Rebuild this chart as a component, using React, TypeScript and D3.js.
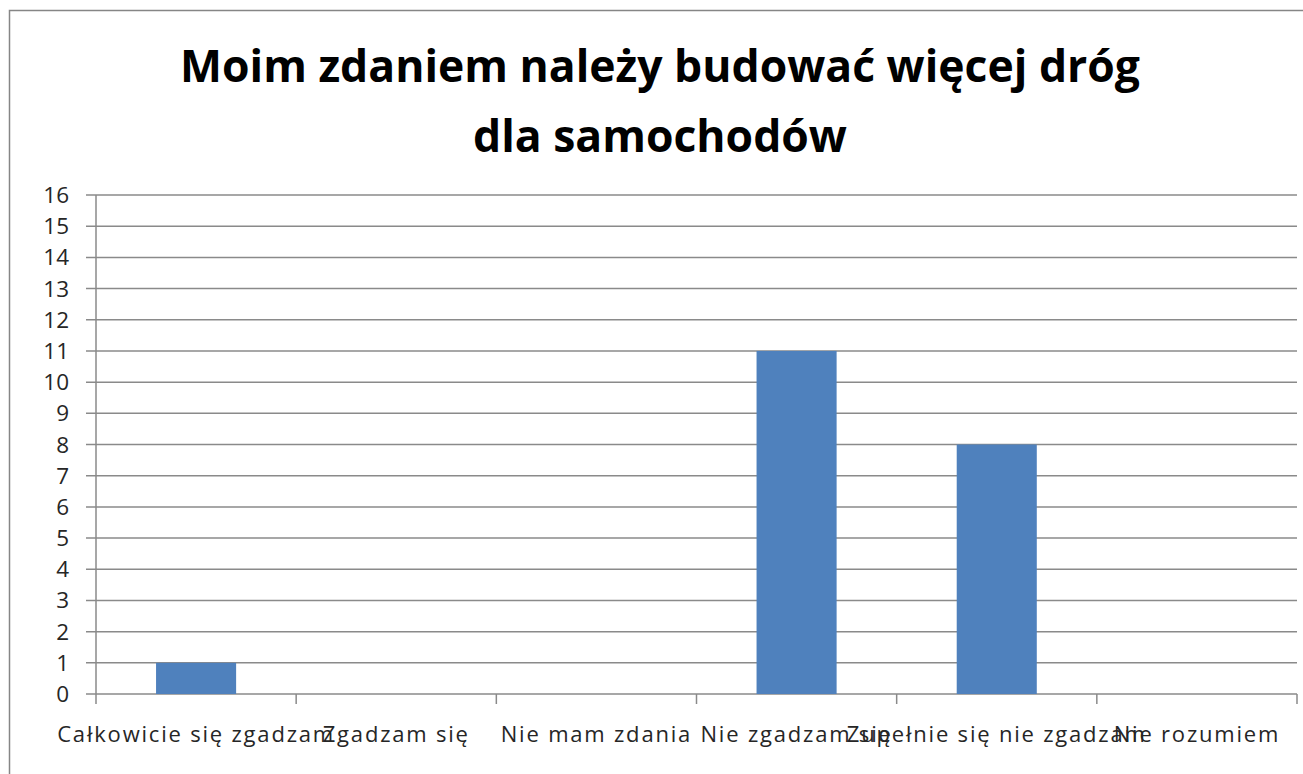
import React from "react";
import * as d3 from "d3";

const categories = [
  "Całkowicie się zgadzam",
  "Zgadzam się",
  "Nie mam zdania",
  "Nie zgadzam się",
  "Zupełnie się nie zgadzam",
  "Nie rozumiem",
];
const values = [1, 0, 0, 11, 8, 0];
const yTicks = d3.range(0, 17);
const titleLines = ["Moim zdaniem należy budować więcej dróg", "dla samochodów"];

const W = 1303;
const H = 774;
const plot = { left: 96, right: 1297, top: 195, bottom: 694 };

export default function App() {
  const x = d3
    .scaleBand<string>()
    .domain(categories)
    .range([plot.left, plot.right])
    .paddingInner(0.6)
    .paddingOuter(0.3);
  const band = d3.scaleBand<string>().domain(categories).range([plot.left, plot.right]);
  const y = d3.scaleLinear().domain([0, 16]).range([plot.bottom, plot.top]);
  const grid = "#8a8a8a";
  const font = "'Open Sans', 'Noto Sans', sans-serif";

  return (
    <svg
      width={W}
      height={H}
      style={{ position: "absolute", left: 0, top: 0, background: "#fff" }}
    >
      <rect x={0} y={0} width={W} height={H} fill="#fff" />
      <rect x={9.5} y={10.5} width={W + 20} height={H + 20} fill="none" stroke="#868686" strokeWidth={1.5} />
      {titleLines.map((t, i) => (
        <text
          key={i}
          x={660}
          y={82 + i * 70}
          textAnchor="middle"
          fontFamily={font}
          fontWeight="bold"
          fontSize={44.5}
          fill="#000"
        >
          {t}
        </text>
      ))}
      {yTicks.map((t) => (
        <g key={t}>
          <line x1={plot.left - 10} x2={plot.right} y1={y(t)} y2={y(t)} stroke={grid} strokeWidth={1.5} />
          <text
            x={69}
            y={y(t) + 8}
            textAnchor="end"
            fontFamily={font}
            fontSize={22.5}
            fill="#262626"
          >
            {t}
          </text>
        </g>
      ))}
      <line x1={plot.left} x2={plot.left} y1={plot.top} y2={plot.bottom + 10} stroke={grid} strokeWidth={1.5} />
      {categories.map((c) => (
        <line
          key={c}
          x1={(band(c) as number) + band.bandwidth()}
          x2={(band(c) as number) + band.bandwidth()}
          y1={plot.bottom}
          y2={plot.bottom + 10}
          stroke={grid}
          strokeWidth={1.5}
        />
      ))}
      {categories.map((c, i) => (
        <rect
          key={c}
          x={x(c)}
          y={y(values[i])}
          width={x.bandwidth()}
          height={plot.bottom - y(values[i])}
          fill="#4F81BD"
        />
      ))}
      {categories.map((c) => (
        <text
          key={c}
          x={(band(c) as number) + band.bandwidth() / 2}
          y={742}
          textAnchor="middle"
          fontFamily={font}
          fontSize={22}
          letterSpacing={1.8}
          fill="#262626"
        >
          {c}
        </text>
      ))}
    </svg>
  );
}
